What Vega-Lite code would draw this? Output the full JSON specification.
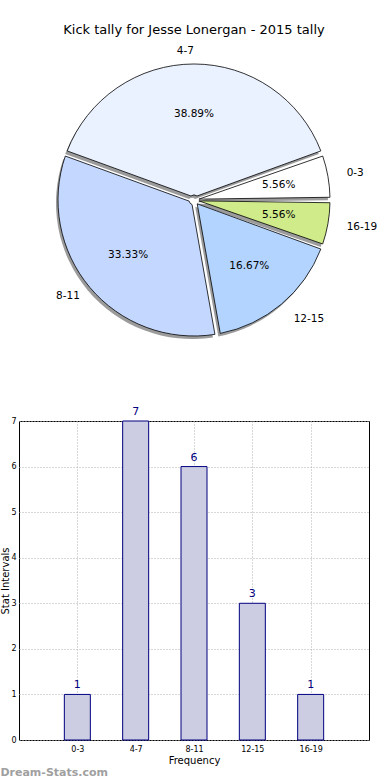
{
  "$schema": "https://vega.github.io/schema/vega-lite/v6.json",
  "padding": {"top": 24, "left": 0, "right": 0, "bottom": 0},
  "config": {"font": "DejaVu Sans", "view": {"stroke": null}},
  "title": {"text": "Dream-Stats.com", "orient": "bottom", "anchor": "start", "frame": "bounds", "color": "#a0a0a0", "fontSize": 11, "fontWeight": "bold", "offset": 1},
  "data": {"values": [
    {"interval": "0-3", "low": 0, "count": 1, "pct": "5.56%"},
    {"interval": "4-7", "low": 4, "count": 7, "pct": "38.89%"},
    {"interval": "8-11", "low": 8, "count": 6, "pct": "33.33%"},
    {"interval": "12-15", "low": 12, "count": 3, "pct": "16.67%"},
    {"interval": "16-19", "low": 16, "count": 1, "pct": "5.56%"}
  ]},
  "spacing": 46,
  "vconcat": [
    {
      "title": {"text": "Kick tally for Jesse Lonergan - 2015 tally", "fontSize": 13, "fontWeight": "normal", "color": "black", "offset": 3},
      "width": 350,
      "height": 318,
      "view": {"stroke": null},
      "encoding": {
        "theta": {"field": "count", "type": "quantitative", "stack": true, "scale": {"range": [1.5708, -4.7124]}},
        "order": {"field": "low", "type": "quantitative"}
      },
      "layer": [
        {"mark": {"type": "arc", "radius": 136, "radius2": 5, "padAngle": 0.04, "fill": "#707070", "opacity": 0.7, "xOffset": -2, "yOffset": 3}},
        {"mark": {"type": "arc", "radius": 136, "radius2": 5, "padAngle": 0.04, "stroke": "black", "strokeWidth": 0.8},
         "encoding": {"color": {"field": "interval", "type": "nominal", "legend": null,
           "scale": {"domain": ["0-3", "4-7", "8-11", "12-15", "16-19"], "range": ["#ffffff", "#eaf1ff", "#c4d8ff", "#b3d4ff", "#cfeb8a"]}}}},
        {"mark": {"type": "text", "radius": 86, "fontSize": 10.5, "color": "black"},
         "encoding": {"text": {"field": "pct", "type": "nominal"}}},
        {"mark": {"type": "text", "radius": 155, "fontSize": 10.5, "color": "black", "align": "left", "baseline": "middle"},
         "encoding": {"text": {"condition": {"test": "datum.interval == '0-3' || datum.interval == '12-15' || datum.interval == '16-19'", "field": "interval"}, "value": ""}}},
        {"mark": {"type": "text", "radius": 149, "fontSize": 10.5, "color": "black", "align": "right", "baseline": "middle"},
         "encoding": {"text": {"condition": {"test": "datum.interval == '4-7' || datum.interval == '8-11'", "field": "interval"}, "value": ""}}}
      ]
    },
    {
      "width": 350,
      "height": 319,
      "view": {"stroke": "black", "strokeWidth": 1},
      "encoding": {
        "x": {"field": "interval", "type": "ordinal", "sort": ["0-3", "4-7", "8-11", "12-15", "16-19"], "scale": {"type": "point", "padding": 1}, "title": "Frequency",
          "axis": {"labelAngle": 0, "labelFontSize": 8, "ticks": false, "labelPadding": 5, "domain": false, "grid": true, "gridColor": "#b0b0b0", "gridDash": [1, 2], "titleFontSize": 10, "titleFontWeight": "normal", "titlePadding": 2, "labelColor": "black", "titleColor": "black"}},
        "y": {"field": "count", "type": "quantitative", "scale": {"domain": [0, 7]}, "title": "Stat Intervals",
          "axis": {"values": [0, 1, 2, 3, 4, 5, 6, 7], "labelFontSize": 8, "ticks": false, "labelPadding": 3, "domain": false, "grid": true, "gridColor": "#b0b0b0", "gridDash": [1, 2], "titleFontSize": 10, "titleFontWeight": "normal", "titlePadding": 0, "labelColor": "black", "titleColor": "black"}}
      },
      "layer": [
        {"mark": {"type": "bar", "width": 26, "fill": "#cccce3", "stroke": "#000080", "strokeWidth": 1}},
        {"mark": {"type": "text", "dy": -9, "color": "#000080", "fontSize": 11}, "encoding": {"text": {"field": "count", "type": "quantitative"}}}
      ]
    }
  ]
}
